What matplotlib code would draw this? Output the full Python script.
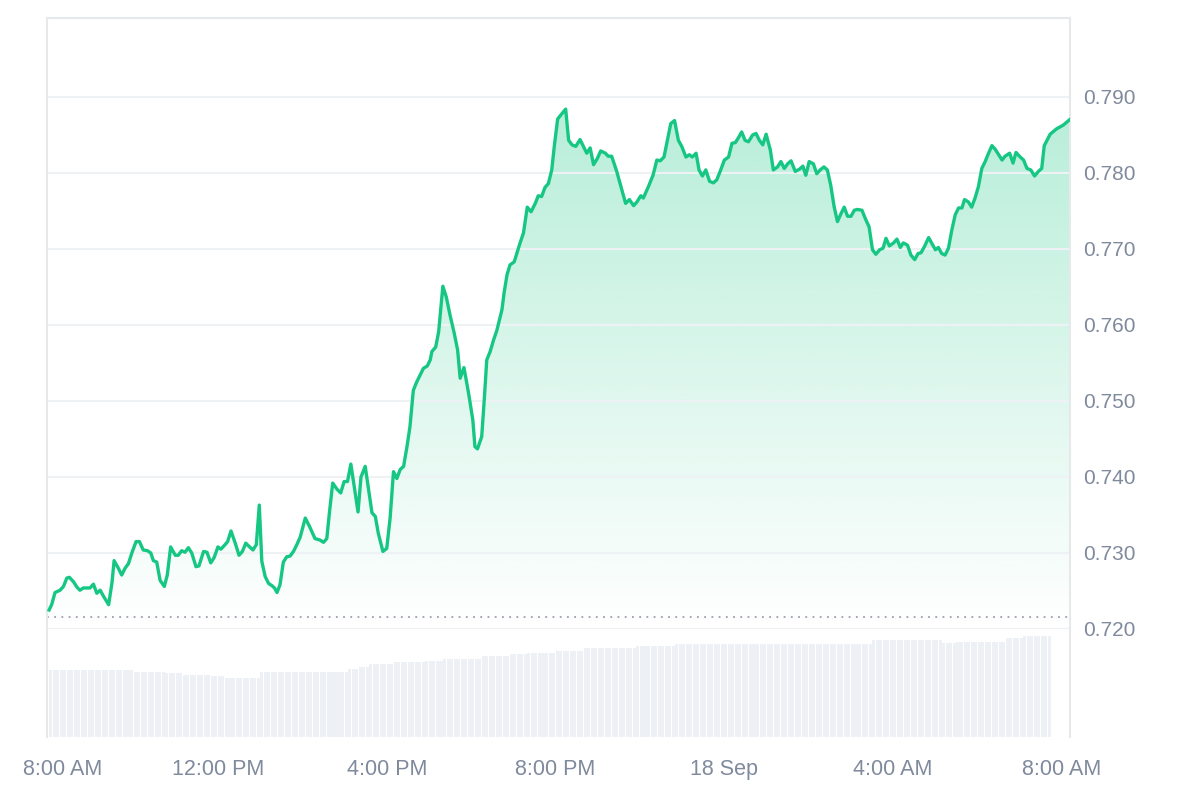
import numpy as np
import matplotlib.pyplot as plt
from matplotlib.transforms import ScaledTranslation

plt.rcParams['font.family'] = ['Liberation Sans', 'DejaVu Sans']

# hours after 8:00 AM and price (USD)
hours = [0.00, 0.06, 0.14, 0.26, 0.34, 0.42, 0.48, 0.58, 0.66, 0.73,
         0.81, 0.89, 0.97, 1.05, 1.13, 1.21, 1.29, 1.41, 1.49, 1.54,
         1.64, 1.72, 1.80, 1.88, 1.96, 2.06, 2.14, 2.23, 2.33, 2.41,
         2.47, 2.55, 2.63, 2.73, 2.80, 2.88, 2.99, 3.06, 3.14, 3.22,
         3.30, 3.38, 3.48, 3.55, 3.66, 3.74, 3.83, 3.91, 4.00, 4.07,
         4.17, 4.23, 4.31, 4.41, 4.50, 4.58, 4.66, 4.75, 4.83, 4.91,
         4.98, 5.04, 5.12, 5.20, 5.28, 5.34, 5.40, 5.47, 5.55, 5.63,
         5.71, 5.79, 5.87, 5.95, 6.07, 6.17, 6.30, 6.42, 6.50, 6.58,
         6.64, 6.72, 6.82, 6.91, 6.99, 7.07, 7.15, 7.23, 7.32, 7.39,
         7.49, 7.57, 7.65, 7.73, 7.80, 7.91, 8.00, 8.08, 8.16, 8.24,
         8.32, 8.40, 8.48, 8.55, 8.63, 8.71, 8.79, 8.87, 8.96, 9.03,
         9.07, 9.16, 9.23, 9.33, 9.41, 9.50, 9.60, 9.68, 9.74, 9.83,
         9.94, 10.04, 10.09, 10.15, 10.25, 10.31, 10.37, 10.45, 10.53, 10.61,
         10.73, 10.78, 10.85, 10.92, 11.02, 11.16, 11.24, 11.33, 11.42, 11.52,
         11.59, 11.67, 11.75, 11.83, 11.91, 11.97, 12.05, 12.15, 12.24, 12.31,
         12.39, 12.48, 12.58, 12.66, 12.74, 12.82, 12.90, 12.99, 13.07, 13.18,
         13.25, 13.33, 13.45, 13.57, 13.66, 13.75, 13.85, 13.93, 14.02, 14.08,
         14.20, 14.31, 14.40, 14.48, 14.57, 14.65, 14.73, 14.82, 14.91, 14.99,
         15.09, 15.17, 15.24, 15.33, 15.40, 15.48, 15.56, 15.65, 15.74, 15.82,
         15.90, 16.00, 16.10, 16.18, 16.26, 16.33, 16.41, 16.49, 16.57, 16.67,
         16.75, 16.83, 16.91, 16.99, 17.09, 17.16, 17.26, 17.34, 17.42, 17.50,
         17.58, 17.68, 17.78, 17.86, 17.93, 18.01, 18.11, 18.19, 18.27, 18.36,
         18.44, 18.52, 18.60, 18.68, 18.76, 18.84, 18.92, 19.00, 19.08, 19.15,
         19.26, 19.34, 19.43, 19.51, 19.59, 19.68, 19.76, 19.83, 19.91, 20.01,
         20.09, 20.17, 20.24, 20.34, 20.42, 20.51, 20.59, 20.66, 20.74, 20.84,
         20.92, 21.00, 21.07, 21.15, 21.23, 21.31, 21.39, 21.47, 21.55, 21.63,
         21.69, 21.78, 21.86, 21.94, 22.02, 22.10, 22.18, 22.26, 22.34, 22.42,
         22.50, 22.58, 22.65, 22.76, 22.84, 22.91, 23.01, 23.09, 23.17, 23.26,
         23.35, 23.44, 23.52, 23.58, 23.72, 23.87, 24.03, 24.18]
price = [0.7225, 0.7232, 0.7248, 0.7251, 0.7256, 0.7267, 0.7268, 0.7262, 0.7255, 0.7251,
         0.7254, 0.7254, 0.7254, 0.7259, 0.7247, 0.7251, 0.7243, 0.7232, 0.7261, 0.7290,
         0.7280, 0.7271, 0.7280, 0.7286, 0.7300, 0.7315, 0.7315, 0.7304, 0.7303, 0.7300,
         0.7290, 0.7288, 0.7264, 0.7256, 0.7271, 0.7308, 0.7297, 0.7297, 0.7303, 0.7301,
         0.7307, 0.7300, 0.7282, 0.7283, 0.7302, 0.7301, 0.7287, 0.7294, 0.7308, 0.7305,
         0.7311, 0.7315, 0.7329, 0.7313, 0.7297, 0.7302, 0.7313, 0.7308, 0.7304, 0.7311,
         0.7363, 0.7289, 0.7269, 0.7260, 0.7257, 0.7254, 0.7248, 0.7258, 0.7288, 0.7295,
         0.7296, 0.7302, 0.7311, 0.7321, 0.7346, 0.7335, 0.7319, 0.7317, 0.7314, 0.7319,
         0.7352, 0.7392, 0.7384, 0.7379, 0.7394, 0.7394, 0.7417, 0.7387, 0.7354, 0.7400,
         0.7414, 0.7383, 0.7353, 0.7348, 0.7326, 0.7302, 0.7306, 0.7346, 0.7407, 0.7398,
         0.7410, 0.7414, 0.7440, 0.7466, 0.7514, 0.7525, 0.7534, 0.7543, 0.7546, 0.7554,
         0.7565, 0.7571, 0.7591, 0.7651, 0.7637, 0.7613, 0.7589, 0.7567, 0.7530, 0.7544,
         0.7510, 0.7475, 0.7440, 0.7437, 0.7453, 0.7501, 0.7554, 0.7565, 0.7580, 0.7593,
         0.7620, 0.7642, 0.7666, 0.7679, 0.7683, 0.7708, 0.7721, 0.7755, 0.7749, 0.7760,
         0.7770, 0.7769, 0.7781, 0.7786, 0.7804, 0.7835, 0.7871, 0.7878, 0.7884, 0.7843,
         0.7837, 0.7835, 0.7844, 0.7835, 0.7826, 0.7833, 0.7811, 0.7819, 0.7829, 0.7826,
         0.7822, 0.7822, 0.7802, 0.7778, 0.7760, 0.7765, 0.7757, 0.7762, 0.7770, 0.7767,
         0.7782, 0.7797, 0.7817, 0.7816, 0.7821, 0.7843, 0.7865, 0.7869, 0.7843, 0.7835,
         0.7821, 0.7824, 0.7821, 0.7826, 0.7804, 0.7796, 0.7804, 0.7789, 0.7787, 0.7791,
         0.7802, 0.7817, 0.7821, 0.7839, 0.7840, 0.7846, 0.7854, 0.7843, 0.7841, 0.7850,
         0.7852, 0.7843, 0.7837, 0.7851, 0.7830, 0.7804, 0.7808, 0.7815, 0.7806, 0.7812,
         0.7816, 0.7802, 0.7805, 0.7809, 0.7797, 0.7815, 0.7812, 0.7799, 0.7804, 0.7808,
         0.7804, 0.7784, 0.7756, 0.7736, 0.7746, 0.7755, 0.7743, 0.7743, 0.7751, 0.7752,
         0.7751, 0.7740, 0.7729, 0.7699, 0.7693, 0.7699, 0.7701, 0.7714, 0.7704, 0.7708,
         0.7713, 0.7702, 0.7708, 0.7705, 0.7692, 0.7686, 0.7694, 0.7695, 0.7703, 0.7715,
         0.7707, 0.7699, 0.7702, 0.7694, 0.7692, 0.7701, 0.7725, 0.7745, 0.7754, 0.7754,
         0.7765, 0.7762, 0.7755, 0.7767, 0.7782, 0.7806, 0.7815, 0.7826, 0.7836, 0.7831,
         0.7824, 0.7817, 0.7822, 0.7826, 0.7813, 0.7827, 0.7821, 0.7817, 0.7806, 0.7804,
         0.7796, 0.7802, 0.7806, 0.7836, 0.7851, 0.7858, 0.7863, 0.7870]

open_price = 0.72158

# rolling volume: level changes (hours after 8:00 AM) and level per segment
vol_breaks = [0.0, 1.99, 2.70, 3.10, 3.82, 4.10, 4.93, 7.06, 7.30, 7.54, 8.15,
              8.86, 9.27, 10.21, 10.88, 11.33, 11.94, 12.62, 13.89, 14.79,
              19.45, 21.11, 21.47, 22.61, 23.01, 23.72]
vol_levels = [6.70, 6.47, 6.37, 6.20, 6.10, 5.87, 6.47, 6.77, 7.03, 7.27,
              7.47, 7.63, 7.77, 8.10, 8.27, 8.43, 8.63, 8.87, 9.10, 9.30,
              9.70, 9.40, 9.53, 9.87, 10.10]

xticks = [0, 4, 8, 12, 16, 20, 24]
xlabels = ['8:00 AM', '12:00 PM', '4:00 PM', '8:00 PM', '18 Sep', '4:00 AM', '8:00 AM']
yticks = [0.720, 0.730, 0.740, 0.750, 0.760, 0.770, 0.780, 0.790]

green = '#16c784'
grey_txt = '#808a9d'
spine_c = '#e6e8eb'
grid_c = '#eff2f5'

fig = plt.figure(figsize=(12, 8), dpi=100)
ax = fig.add_axes([47 / 1200, 1 - 629 / 800, 1023 / 1200, 611 / 800])
axv = fig.add_axes([47 / 1200, 1 - 737 / 800, 1023 / 1200, 108 / 800], sharex=ax)

x0, x1 = -0.05, 24.19
y0, y1 = 0.720, 0.80039

# gradient fill under the price line
poly = ax.fill_between(hours, price, y0, color='none', lw=0)
rgba = np.zeros((256, 1, 4))
rgba[:, 0, :3] = [22 / 255, 199 / 255, 132 / 255]
rgba[:, 0, 3] = np.linspace(0.36, 0.0, 256)
img = ax.imshow(rgba, extent=[x0, x1, y0, y1], aspect='auto', origin='upper', zorder=1)
img.set_clip_path(poly.get_paths()[0], transform=ax.transData)

ax.plot(hours, price, color=green, lw=2.4, solid_joinstyle='round', zorder=3)
ax.axhline(open_price, color='#9aa1ab', lw=1.3, ls=(0, (1, 3)), zorder=2)

ax.set_xlim(x0, x1)
ax.set_ylim(y0, y1)
ax.set_yticks(yticks)
ax.set_yticklabels([f'{t:.3f}' for t in yticks])
ax.yaxis.tick_right()
ax.grid(axis='y', color=grid_c, lw=1.5, zorder=0)
ax.tick_params(axis='y', length=0, pad=9.5, labelsize=15, labelcolor=grey_txt)
ax.tick_params(axis='x', length=0, labelbottom=False)
for s in ['left', 'top', 'right']:
    ax.spines[s].set_color(spine_c)
    ax.spines[s].set_linewidth(1.5)
ax.spines['bottom'].set_color(grid_c)
ax.spines['bottom'].set_linewidth(1.5)

# volume bars every 5 minutes
bar_t = np.arange(0, 23.72, 5 / 60)
seg = np.searchsorted(vol_breaks, bar_t, side='right') - 1
bar_v = np.array(vol_levels)[seg]
axv.bar(bar_t, bar_v, width=0.072, align='edge', color='#edf0f4', lw=0)
axv.set_ylim(0, 10.8)
axv.set_yticks([])
for s in ['left', 'right']:
    axv.spines[s].set_color(spine_c)
    axv.spines[s].set_linewidth(1.5)
axv.spines['top'].set_visible(False)
axv.spines['bottom'].set_visible(False)

axv.set_xticks(xticks)
axv.set_xticklabels(xlabels)
axv.tick_params(axis='x', length=0, pad=16, labelsize=15.5, labelcolor=grey_txt)
first = axv.get_xticklabels()[0]
first.set_transform(first.get_transform() + ScaledTranslation(0.14, 0, fig.dpi_scale_trans))

fig.savefig('out.png', dpi=100)
